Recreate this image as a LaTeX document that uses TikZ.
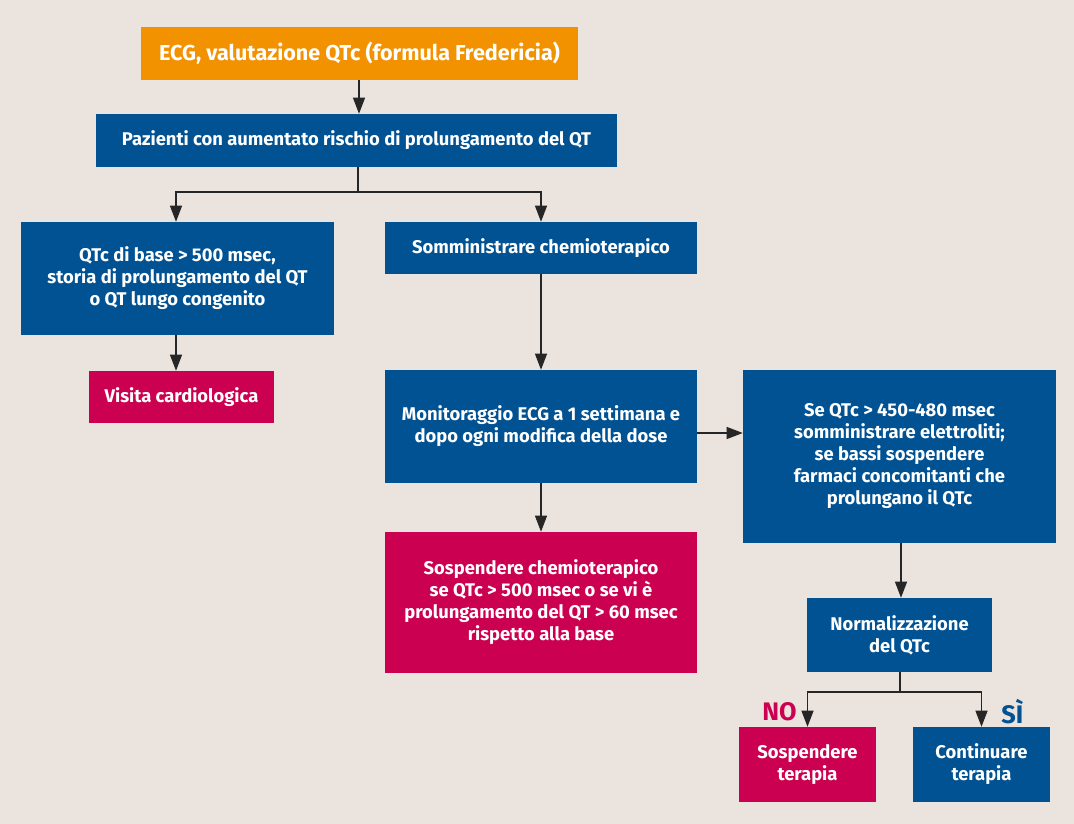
\documentclass[tikz,border=0pt]{standalone}
\usepackage{fontspec}
\setmainfont{Fira Sans}
\usetikzlibrary{arrows.meta,calc,positioning}
\definecolor{Sand}{HTML}{EBE3DD}
\definecolor{Navy}{HTML}{005293}
\definecolor{Amber}{HTML}{F39200}
\definecolor{Berry}{HTML}{CC0050}
\tikzset{box/.style={draw=none,fill=Navy,text=white,font=\bfseries\fontsize{13.8}{16.5}\selectfont,align=center,inner sep=2pt},alert/.style={box,fill=Berry},start/.style={box,fill=Amber,font=\bfseries\fontsize{16.2}{18}\selectfont},sz/.style 2 args={minimum width=#1*0.75pt,minimum height=#2*0.75pt},flow/.style={-{Triangle[length=12pt,width=9pt]},line width=.8pt,draw=black!85},tag/.style={font=\bfseries\fontsize{19}{22}\selectfont,inner sep=0pt}}

\begin{document}
\begin{tikzpicture}[x=0.75pt,y=-0.75pt]
      \fill[Sand](0,0)rectangle(1074,824);
      \useasboundingbox(0,0)rectangle(1074,824);
      \node[start,sz={437}{53}](ecg)at(359.5,53.5){ECG, valutazione QTc (formula Fredericia)};
      \node[box,sz={521}{53}](risk)at(356.5,140.5){Pazienti con aumentato rischio di prolungamento del QT};
      \node[box,sz={313}{113}](base)at(177.5,278.5){QTc di base > 500 msec,\\storia di prolungamento del QT\\o QT lungo congenito};
      \node[box,sz={312}{52}](chemo)at(541,248){Somministrare chemioterapico};
      \node[alert,sz={185}{52}](visit)at(181.5,397){Visita cardiologica};
      \node[box,sz={312}{113}](monitor)at(541,426.5){Monitoraggio ECG a 1 settimana e\\dopo ogni modifica della dose};
      \node[box,sz={313}{173}](elec)at(899.5,456.5){Se QTc > 450-480 msec\\somministrare elettroliti;\\se bassi sospendere\\farmaci concomitanti che\\prolungano il QTc};
      \node[alert,sz={312}{141}](stop)at(541,602.5){Sospendere chemioterapico\\se QTc > 500 msec o se vi è\\prolungamento del QT > 60 msec\\rispetto alla base};
      \node[box,sz={185}{74}](norm)at(899.5,635){Normalizzazione\\del QTc};
      \node[alert,sz={137}{75}](halt)at(807.5,764.5){Sospendere\\terapia};
      \node[box,sz={137}{75}](cont)at(981.5,764.5){Continuare\\terapia};
      \node[tag,text=Berry,anchor=east](no)at(797,712){NO};
      \node[tag,text=Navy,anchor=west](si)at(1001,712){SÌ};
      % connectors
      \draw[flow](ecg.south-|359,0)--(risk.north-|359,0);
      \coordinate(split)at(358,192);
      \draw[flow](risk.south-|split)--(split)-|(base.north-|176,0);
      \draw[flow](split)-|(chemo);
      \draw[flow](base.south-|176,0)--(visit.north-|176,0);
      \draw[flow](chemo)--(monitor);
      \draw[flow](monitor)--(stop);
      \draw[flow](monitor.east|-0,433)--(elec.west|-0,433);
      \draw[flow](elec.south-|901,0)--(norm.north-|901,0);
      \coordinate(fork)at(900,692);
      \draw[flow](norm.south-|fork)--(fork)-|(halt);
      \draw[flow](fork)-|(cont);
    \end{tikzpicture}
\end{document}
